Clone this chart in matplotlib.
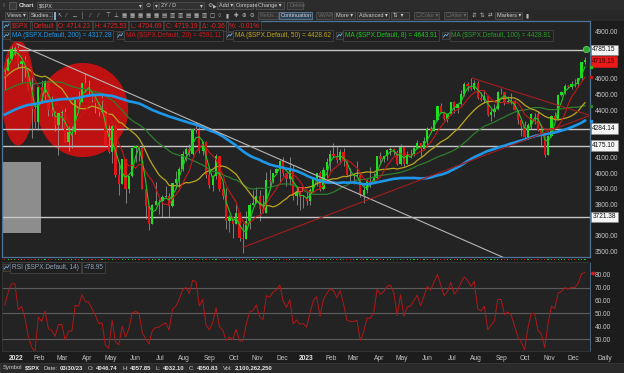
import matplotlib

matplotlib.use('Agg')
import matplotlib.pyplot as plt
import matplotlib.patches as mpc
import matplotlib.transforms as mtrans
from matplotlib.lines import Line2D
import numpy as np
import pandas as pd

plt.rcParams['font.family'] = ['Liberation Sans', 'DejaVu Sans']

W, H = 624, 373

# $SPX, one candle = 3 business days, first candle starts 2021-12-17
start_day = '2021-12-17'
first_open = 4668.0
close = [4649, 4725, 4793, 4796, 4696, 4713, 4662, 4532, 4410, 4326,
         4546, 4501, 4587, 4401, 4380, 4305, 4385, 4387, 4201, 4260,
         4262, 4463, 4456, 4575, 4530, 4525, 4488, 4447, 4391, 4394,
         4175, 4132, 4301, 3991, 3930, 4088, 3901, 3979, 4158, 4176,
         4161, 3901, 3790, 3675, 3796, 3821, 3825, 3845, 3855, 3790,
         3937, 3962, 4024, 4119, 4152, 4122, 4280, 4275, 4138, 4199,
         3986, 3924, 3980, 4110, 3901, 3856, 3693, 3719, 3678, 3745,
         3589, 3583, 3696, 3797, 3808, 3856, 3771, 3749, 3957, 3947,
         4003, 4026, 4080, 3999, 3963, 4019, 3852, 3879, 3845, 3849,
         3825, 3895, 3970, 3999, 3899, 4017, 4071, 4120, 4111, 4082,
         4136, 4079, 3991, 3982, 3982, 3986, 3862, 3892, 3952, 3949,
         3971, 4109, 4091, 4110, 4146, 4154, 4134, 4056, 4168, 4061,
         4119, 4124, 4158, 4192, 4151, 4206, 4282, 4268, 4338, 4426,
         4389, 4348, 4376, 4455, 4412, 4439, 4505, 4566, 4555, 4537,
         4577, 4478, 4468, 4490, 4370, 4388, 4406, 4515, 4516, 4451,
         4462, 4450, 4402, 4337, 4300, 4229, 4308, 4377, 4374, 4278,
         4248, 4117, 4237, 4365, 4347, 4496, 4514, 4557, 4550, 4568,
         4567, 4604, 4707, 4719.19]
high = [4660, 4740, 4808, 4808, 4818, 4714, 4749, 4632, 4612, 4453,
        4550, 4595, 4591, 4589, 4490, 4394, 4386, 4401, 4416, 4299,
        4303, 4465, 4522, 4576, 4637, 4593, 4521, 4471, 4452, 4512,
        4385, 4308, 4308, 4307, 4068, 4090, 4076, 3982, 4158, 4178,
        4168, 4164, 3838, 3733, 3801, 3945, 3838, 3863, 3918, 3874,
        3939, 4013, 4040, 4141, 4167, 4187, 4280, 4325, 4292, 4203,
        4203, 4015, 3986, 4119, 4110, 3917, 3907, 3733, 3720, 3806,
        3750, 3685, 3762, 3812, 3894, 3911, 3894, 3859, 4009, 4028,
        4004, 4034, 4081, 4100, 4001, 4101, 4052, 3888, 3877, 3859,
        3879, 3906, 3971, 4003, 4015, 4039, 4095, 4148, 4195, 4176,
        4156, 4160, 4085, 4033, 3998, 4079, 4005, 3938, 3964, 4039,
        4003, 4110, 4133, 4111, 4151, 4169, 4163, 4148, 4187, 4170,
        4143, 4154, 4164, 4212, 4195, 4231, 4291, 4299, 4340, 4428,
        4448, 4392, 4384, 4456, 4458, 4443, 4528, 4578, 4580, 4607,
        4595, 4584, 4520, 4528, 4492, 4411, 4443, 4521, 4541, 4519,
        4491, 4511, 4466, 4405, 4339, 4334, 4318, 4386, 4385, 4393,
        4280, 4256, 4245, 4372, 4391, 4504, 4521, 4568, 4560, 4587,
        4598, 4609, 4709, 4738.57]
low = [4530, 4650, 4733, 4750, 4671, 4582, 4614, 4530, 4222, 4287,
       4274, 4451, 4464, 4364, 4366, 4268, 4114, 4279, 4199, 4138,
       4162, 4252, 4424, 4450, 4517, 4507, 4450, 4381, 4365, 4385,
       4170, 4128, 4062, 3975, 3859, 3929, 3810, 3875, 3975, 4074,
       4080, 3900, 3705, 3636, 3705, 3795, 3738, 3721, 3847, 3722,
       3785, 3911, 3911, 4011, 4079, 4107, 4115, 4254, 4129, 4118,
       3970, 3903, 3886, 3960, 3885, 3838, 3647, 3623, 3584, 3675,
       3570, 3491, 3580, 3647, 3796, 3808, 3698, 3745, 3745, 3906,
       3940, 4000, 3937, 3984, 3919, 3927, 3828, 3796, 3765, 3780,
       3795, 3795, 3877, 3921, 3886, 3890, 3950, 4015, 4103, 4064,
       4061, 4047, 3982, 3943, 3928, 3983, 3847, 3808, 3874, 3909,
       3938, 3965, 4073, 4072, 4086, 4113, 4114, 4049, 4050, 4048,
       4058, 4099, 4110, 4155, 4103, 4151, 4166, 4261, 4267, 4335,
       4381, 4337, 4328, 4371, 4385, 4384, 4435, 4494, 4526, 4529,
       4530, 4474, 4461, 4448, 4364, 4335, 4356, 4400, 4501, 4431,
       4447, 4443, 4401, 4316, 4238, 4220, 4216, 4284, 4311, 4269,
       4168, 4103, 4128, 4230, 4345, 4339, 4489, 4507, 4541, 4537,
       4547, 4546, 4590, 4694.69]

# 3-day closes Apr-Dec 2021, only used to warm up the averages and RSI
pre_close = [4020, 4078, 4097, 4128, 4141, 4185, 4163, 4173, 4187, 4211,
             4164, 4202, 4232, 4063, 4174, 4163, 4159, 4188, 4204,
             4192, 4227, 4247, 4223, 4224, 4266, 4291,
             4352, 4320, 4369, 4327, 4359, 4422, 4419,
             4423, 4437, 4447, 4479, 4406, 4486, 4509,
             4524, 4520, 4458, 4480, 4358, 4449, 4352,
             4357, 4363, 4361, 4438, 4519, 4544, 4551,
             4613, 4680, 4685, 4682, 4688, 4682, 4595,
             4513, 4592, 4667, 4634, 4669]

ma_len = [200, 20, 50, 8, 100]
ma_text = ['MA ($SPX.Default, 200) = 4317.28', 'MA ($SPX.Default, 20) = 4591.11',
           'MA ($SPX.Default, 50) = 4428.62', 'MA ($SPX.Default, 8) = 4643.91',
           'MA ($SPX.Default, 100) = 4428.81']
ma_color = ['#1f97e8', '#c81818', '#bca51e', '#22c522', '#2f7d2f']
ma_width = [1.9, 0.8, 0.9, 0.8, 0.9]

header = ['$SPX', 'Default', 'O: 4714.23', 'H: 4725.53', 'L: 4704.69',
          'C: 4719.19', 'Δ: -0.36', '%: -0.01%']
rsi_text = ['RSI ($SPX.Default, 14)', '=78.95']
level_lines = [4785.15, 4284.14, 4175.10, 3721.38]
price_ticks = [3500, 3600, 3800, 3900, 4000, 4100, 4400, 4500, 4600, 4900]
status = [('Symbol', '$SPX'), ('Date:', '03/30/23'), ('O:', '4046.74'), ('H:', '4057.85'),
          ('L:', '4032.10'), ('C:', '4050.83'), ('Vol:', '2,100,262,250')]

# drawings on the chart: (business day from start, price)
trend_white = [(12, 4823), (448, 3460)]
trend_red = [[(215, 3530), (523, 4364)], [(419, 4606), (523, 4371)]]
red_ovals = [(12.8, 4511, 29.5, 669), (70.9, 4402, 81, 599)]
grey_box = (-1.5, 3619, 34.9, 452)
event_mark = (265, 3899)
alert_mark = (521, 4790)

# ---- derived series
n = len(close)
c = np.array(close, dtype=float)
o = np.r_[first_open, c[:-1]]
hi = np.maximum(np.array(high, dtype=float), np.maximum(o, c))
lo = np.minimum(np.array(low, dtype=float), np.minimum(o, c))
xs = np.arange(n) * 3 + 1
up = c >= o

full = pd.Series(pre_close + close, dtype=float)
ma = [full.rolling(max(int(round(p / 3.0)), 2)).mean().values[-n:] for p in ma_len]
chg = full.diff()
g = chg.clip(lower=0).ewm(alpha=1 / 7.0, adjust=False).mean()
ls = (-chg.clip(upper=0)).ewm(alpha=1 / 7.0, adjust=False).mean()
rsi = (100 - 100 / (1 + g / ls)).values[-n:]

days = pd.bdate_range(start_day, periods=3 * n)
mpos = [i for i in range(1, len(days)) if days[i].month != days[i - 1].month]
mlab = [days[i].strftime('%Y') if days[i].month == 1 else days[i].strftime('%b') for i in mpos]

XL = (-1.5, 524.5)

fig = plt.figure(figsize=(W / 100, H / 100), dpi=100, facecolor='#1c1c1c')


def px_axes(x0, y0, x1, y1):
    return fig.add_axes([x0 / W, 1 - y1 / H, (x1 - x0) / W, (y1 - y0) / H])


def frect(x0, y0, x1, y1, fc, ec='none', lw=0.6, z=-5):
    fig.add_artist(mpc.Rectangle((x0 / W, 1 - y1 / H), (x1 - x0) / W, (y1 - y0) / H,
                                 transform=fig.transFigure, fc=fc, ec=ec, lw=lw, zorder=z))


def ftext(x, y, s, color='#c8c8c8', size=4.2, **kw):
    return fig.text(x / W, 1 - y / H, s, color=color, fontsize=size, va='center', ha='left', **kw)


def icon(x, y):
    frect(x, y - 3.5, x + 7, y + 3.5, '#262626', '#4b4b4b', lw=0.5, z=2)
    fig.add_artist(Line2D([(x + 1.2) / W, (x + 3) / W, (x + 4.5) / W, (x + 6) / W],
                          [1 - (y + 1.5) / H, 1 - (y - 1) / H, 1 - (y + 0.3) / H, 1 - (y - 2) / H],
                          transform=fig.transFigure, color='#70b0e8', lw=0.6, zorder=4))


# ---- toolbars
frect(0, 0, W, 10.5, '#2c2c2c')
frect(0, 10.5, W, 21, '#282828')
ftext(2, 5.5, '⁞⁞', '#777777', 4.2)
frect(9, 2.5, 16, 8.5, '#3a3a3a', '#5a5a5a', z=-4)
ftext(19, 5.5, 'Chart', '#d8d8d8', 4.2, fontweight='bold')
tb1 = [(37, 142, '$SPX', 1), (153, 158, '▾', 1), (159, 204, '2Y / D', 1), (217, 233, 'Add ▾', 1),
       (234, 253, 'Compare', 1), (256, 284, 'Change ▾', 1), (287, 303, 'Delete', 0)]
tb2 = [(5, 27, 'Views ▾', 1), (29, 52, 'Studies...', 1), (258, 278, 'Fields...', 0),
       (279, 312, 'Continuation', 2), (316, 332, 'VWAP', 0), (334, 355, 'More ▾', 1),
       (357, 389, 'Advanced ▾', 1), (391, 409, '⇅  ▾', 1), (414, 439, '☐Color ▾', 0),
       (444, 467, '☐Alter ▾', 0), (495, 522, 'Markers ▾', 1)]
for (x0, x1, s, st), yc in [(b, 5.5) for b in tb1] + [(b, 15.7) for b in tb2]:
    fc = '#2f4358' if st == 2 else '#313131'
    ec = '#7090b0' if st == 2 else '#555555'
    frect(x0, yc - 3.6, x1, yc + 3.6, fc, ec, lw=0.5, z=-4)
    ftext(x0 + 2, yc, s, '#cfcfcf' if st else '#6a6a6a', 4.0)
ftext(139, 5.5, '▾', '#cfcfcf', 4.0)
ftext(200, 5.5, '▾', '#cfcfcf', 4.0)
ftext(145, 5.5, '⊙', '#bbbbbb', 4.4)
ftext(207, 5.5, '⚙', '#bbbbbb', 4.4)
ftext(212.5, 5.5, '▶', '#bbbbbb', 3.4)
frect(54, 12, 56, 19.5, '#8aa8c8', z=-4)
tools = '↖∕─│∕∕⊤⊥▦▦▦▦▦▤▥▥▤▦▥▢○▮✚⊕⊖'
for tx, ch in zip(np.linspace(57, 250, len(tools)), tools):
    ftext(tx, 15.7, ch, '#b8b8b8', 4.0)
for tx, ch in zip([472, 480, 488, 526], '⇵⇅⇄▮'):
    ftext(tx, 15.7, ch, '#b8b8b8', 4.0)

# ---- price panel
ax = px_axes(2, 21, 590, 257)
ax.set_facecolor('#232323')
ax.set_xlim(*XL)
ax.set_ylim(3466, 4969)
for sp in ax.spines.values():
    sp.set_color('#4f7397')
    sp.set_linewidth(0.9)

for cx, cy, wd, ht in red_ovals:
    ax.add_patch(mpc.Ellipse((cx, cy), wd, ht, fc='#be1111', ec='none', zorder=1))
ax.add_patch(mpc.Rectangle(grey_box[:2], grey_box[2], grey_box[3], fc='#8d8d8d', ec='none', zorder=1.2))
for lv in level_lines:
    ax.axhline(lv, color='#c6c6c6', lw=1.0, zorder=1.5)

ax.vlines(xs, lo, hi, color='#a4a4a4', lw=0.5, zorder=2)
ax.bar(xs, np.maximum(np.abs(c - o), 3), bottom=np.minimum(o, c), width=2.0,
       color=np.where(up, '#1fe01f', '#e21616'), linewidth=0, zorder=2.5)

for k in [4, 2, 1, 3, 0]:
    ax.plot(xs, ma[k], color=ma_color[k], lw=ma_width[k], zorder=3 + 0.1 * (k == 0))

ax.plot(*zip(*trend_white), color='#b6b6b6', lw=0.8, zorder=3.5)
for seg in trend_red:
    ax.plot(*zip(*seg), color='#a31d1d', lw=0.8, zorder=3.5)
ax.plot(*event_mark, marker='s', ms=3.4, mfc='#6e1010', mec='#ff4a4a', mew=0.6, zorder=4)
ax.plot(*alert_mark, marker='o', ms=4.6, mfc='#2ca82c', mec='#64e064', mew=0.5, zorder=4, clip_on=False)

ax.set_xticks([])
ax.yaxis.tick_right()
ax.set_yticks(price_ticks)
ax.set_yticklabels(['%.2f' % v for v in price_ticks])
ax.tick_params(axis='y', length=0, pad=3.3, labelsize=4.7, labelcolor='#c8c8c8')

tr = mtrans.blended_transform_factory(ax.transAxes, ax.transData)
for lv in level_lines:
    ax.text(1.004, lv, '%.2f' % lv, transform=tr, fontsize=4.7, color='#111111', va='center', ha='left',
            bbox=dict(boxstyle='square,pad=0.28', fc='#f4f4f4', ec='#888888', lw=0.4), clip_on=False, zorder=6)
ax.text(1.004, c[-1] - 8, '%.2f' % c[-1], transform=tr, fontsize=4.7, color='#3a0000', va='center', ha='left',
        bbox=dict(boxstyle='square,pad=0.28', fc='#ea1a1a', ec='#ea1a1a', lw=0.4), clip_on=False, zorder=6)
for k in [3, 1, 4, 0]:
    ax.plot([1.002], [ma[k][-1]], transform=tr, marker='s', ms=1.5, color=ma_color[k],
            clip_on=False, zorder=6)

# legend rows inside the price panel
rend = fig.canvas.get_renderer()
box = dict(boxstyle='square,pad=0.25', fc='#1f1f1f', ec='#4b4b4b', lw=0.5)
icon(3, 26)
x = 12
for s in header:
    t = ftext(x, 26, s, '#e42222', 4.7, bbox=box)
    x = t.get_window_extent(rend).x1 + 4.5
x = 3
for k in range(5):
    icon(x, 35.5)
    t = ftext(x + 9, 35.5, ma_text[k], ma_color[k] if k != 4 else '#2f9a2f', 4.7, bbox=box)
    x = t.get_window_extent(rend).x1 + 5

# up / down strip between panels
ad = px_axes(2, 258, 590, 261)
ad.set_xlim(*XL)
ad.set_ylim(-1, 1)
ad.scatter(xs, np.zeros(n), c=np.where(up, '#22c022', '#d01818'), marker='s', s=0.7, linewidths=0)
ad.axis('off')

# ---- RSI panel
ar = px_axes(2, 262, 590, 351)
ar.set_facecolor('#232323')
ar.set_xlim(*XL)
ar.set_ylim(20.8, 90)
for sp in ar.spines.values():
    sp.set_color('#363636')
    sp.set_linewidth(0.6)
ar.spines['right'].set_color('#4f7397')
for lv in (30, 50, 70):
    ar.axhline(lv, color='#5c5c5c', lw=0.8, zorder=1)
ar.plot(xs, rsi, color='#b41616', lw=0.7, zorder=2)
ar.yaxis.tick_right()
ar.set_yticks(np.arange(30, 81, 10))
ar.set_yticklabels(['%.2f' % v for v in np.arange(30, 81, 10)])
ar.tick_params(axis='y', length=0, pad=3.3, labelsize=4.7, labelcolor='#c8c8c8')
tr2 = mtrans.blended_transform_factory(ar.transAxes, ar.transData)
ar.plot([1.004], [rsi[-1]], transform=tr2, marker='<', ms=2.2, color='#e01a1a', clip_on=False)
ar.set_xticks(mpos)
ar.set_xticklabels(mlab)
ar.tick_params(axis='x', length=0, pad=3.0, labelsize=4.8, labelcolor='#c4c4c4')
for t in ar.get_xticklabels():
    if t.get_text().isdigit():
        t.set_fontweight('bold')
        t.set_color('#e6e6e6')
icon(3, 267.5)
x = 12
for s in rsi_text:
    t = ftext(x, 267.5, s, '#8fa6bd', 4.7, bbox=box)
    x = t.get_window_extent(rend).x1 + 4.5
ftext(597, 358.5, 'Daily', '#c4c4c4', 4.8)

# ---- status bar
frect(0, 362.5, W, H, '#2a2a2a', '#3c3c3c', lw=0.5)
x = 3
for lab, val in status:
    t = ftext(x, 368, lab, '#cfcfcf', 4.2)
    x = t.get_window_extent(rend).x1 + 2
    t = ftext(x, 368, val, '#e8e8e8', 4.2, fontweight='bold')
    x = t.get_window_extent(rend).x1 + 4.5

fig.savefig('out.png', dpi=100, facecolor=fig.get_facecolor())
